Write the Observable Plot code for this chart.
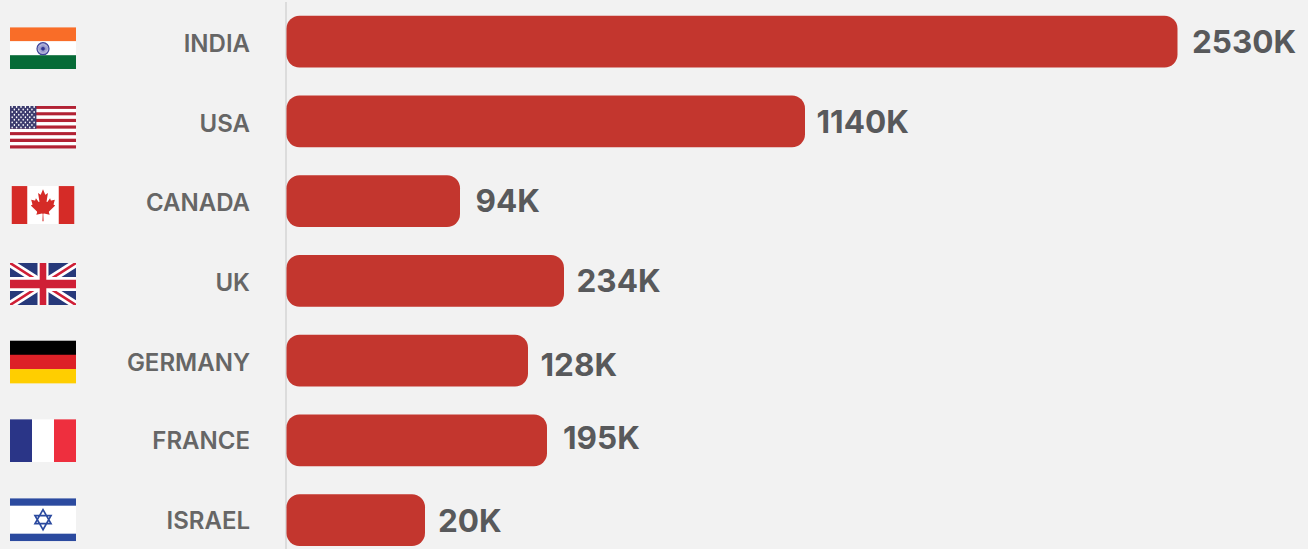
<!DOCTYPE html>
<html>
<head>
<meta charset="utf-8">
<script src="https://cdn.jsdelivr.net/npm/d3@7"></script>
<script src="https://cdn.jsdelivr.net/npm/@observablehq/plot@0.6"></script>
<style>
  html, body { margin: 0; padding: 0; background: #f2f2f2; }
  svg { display: block; }
</style>
</head>
<body>
<div id="chart"></div>
<script>
// Values in thousands, one per country.
const countries = ["INDIA", "USA", "CANADA", "UK", "GERMANY", "FRANCE", "ISRAEL"];
const values = [2530, 1140, 94, 234, 128, 195, 20];
const valueLabels = ["2530K", "1140K", "94K", "234K", "128K", "195K", "20K"];

// The bar axis is not linear: it is a piecewise scale with a knot at each value.
const axisKnots = [0, 20, 94, 128, 195, 234, 1140, 2530];
const axisRange = [286.5, 425, 460, 528, 547, 564, 805, 1177.5];

// Small per-row nudges for flags and labels.
const flagNudge = [6, 5.2, 3.4, 2.6, 0.8, -0.2, -0.9];
const nameNudge = [2.2, 2.2, 1.4, 1.6, 1.8, 0.3, 1];
const valueNudgeY = [0.5, 0.7, -0.1, 0.1, 4.3, -1.7, 1.5];
const valueNudgeX = [14, 11, 15, 12, 12, 15.5, 12.5];

const svgUri = (w, h, body) =>
  "data:image/svg+xml," + encodeURIComponent(
    `<svg xmlns="http://www.w3.org/2000/svg" viewBox="0 0 ${w} ${h}" preserveAspectRatio="none">${body}</svg>`);

const bands = (colors) => colors.map((c, i) =>
  `<rect x="0" y="${i}" width="3" height="1.02" fill="${c}"/>`).join("");

// India: tricolour with the chakra wheel.
const spokes = d3.range(24).map(i => {
  const a = i * Math.PI / 12;
  return `<line x1="33" y1="21.5" x2="${33 + 6 * Math.cos(a)}" y2="${21.5 + 6 * Math.sin(a)}"/>`;
}).join("");
const india = svgUri(66, 42,
  `<rect width="66" height="14.3" fill="#f96d28"/><rect y="14" width="66" height="14" fill="#fff"/>` +
  `<rect y="28" width="66" height="14" fill="#066b37"/>` +
  `<circle cx="33" cy="21.5" r="6" fill="#dcdcf0" stroke="#3b3f96" stroke-width="1.2"/>` +
  `<g stroke="#5a5eaa" stroke-width="0.5">${spokes}</g><circle cx="33" cy="21.5" r="1.8" fill="#2f3390"/>`);

// USA: thirteen stripes, fifty stars on the canton.
const stripes = d3.range(13).map(i =>
  `<rect y="${i}" width="26" height="1" fill="${i % 2 ? "#fff" : "#b22234"}"/>`).join("");
const stars = d3.range(9).flatMap(r => d3.range(r % 2 ? 5 : 6).map(c =>
  `<circle cx="${(r % 2 ? 1.73 : 0.87) + c * 1.73}" cy="${0.38 + r * 0.78}" r="0.3" fill="#fff"/>`)).join("");
const usa = svgUri(26, 13, stripes + `<rect width="10.4" height="7" fill="#3c3b6e"/>` + stars);

// Canada: red pales with the maple leaf cut out of the white square.
const canada = svgUri(9600, 4800,
  `<rect width="9600" height="4800" fill="#d52b27"/>` +
  `<path fill="#fff" d="m2400 0h4800v4800h-4800zm2490 4430-45-863a95 95 0 0 1 111-98l859 151-116-320a65 65 0 0 1 20-73l941-762-212-99a65 65 0 0 1-34-79l186-572-542 115a65 65 0 0 1-73-38l-105-247-423 454a65 65 0 0 1-111-57l204-1052-327 189a65 65 0 0 1-91-27l-332-652-332 652a65 65 0 0 1-91 27l-327-189 204 1052a65 65 0 0 1-111 57l-423-454-105 247a65 65 0 0 1-73 38l-542-115 186 572a65 65 0 0 1-34 79l-212 99 941 762a65 65 0 0 1 20 73l-116 320 859-151a95 95 0 0 1 111 98l-45 863z"/>`);

// UK: the union flag.
const uk = svgUri(60, 30,
  `<rect width="60" height="30" fill="#27397a"/>` +
  `<path d="M0 0L60 30M60 0L0 30" stroke="#fff" stroke-width="6"/>` +
  `<path d="M0 0L60 30M60 0L0 30" stroke="#cf1f36" stroke-width="2"/>` +
  `<path d="M30 0V30M0 15H60" stroke="#fff" stroke-width="10"/>` +
  `<path d="M30 0V30M0 15H60" stroke="#cf1f36" stroke-width="6"/>`);

const germany = svgUri(3, 3, bands(["#000", "#dd2127", "#ffce00"]));

const france = svgUri(66, 43,
  `<rect width="22" height="43" fill="#2a3587"/><rect x="22" width="22" height="43" fill="#fff"/>` +
  `<rect x="44" width="22" height="43" fill="#ee2f3e"/>`);

// Israel: two blue stripes and the star of David.
const israel = svgUri(66, 43,
  `<rect width="66" height="43" fill="#fff"/><rect width="66" height="7.5" fill="#2b4a9f"/>` +
  `<rect y="35.5" width="66" height="7.5" fill="#2b4a9f"/>` +
  `<path d="M33 11.5L41 25.5H25ZM33 31.5L25 17.5H41Z" fill="none" stroke="#2b4a9f" stroke-width="1.7"/>`);

const flags = [india, usa, canada, uk, germany, france, israel];
const flagSizes = [[66, 42], [66, 43], [63, 38], [66, 42], [66, 43], [66, 43], [66, 43]];

const rows = countries.map((name, i) => ({name, value: values[i], label: valueLabels[i], flag: flags[i], i}));
const font = "Inter, 'Noto Sans', sans-serif";

const chart = Plot.plot({
  width: 1308,
  height: 549,
  margin: 0,
  style: {background: "#f2f2f2", fontFamily: font},
  x: {axis: null, type: "linear", domain: axisKnots, range: axisRange},
  y: {axis: null, domain: countries, range: [15.8, 546], paddingInner: 0.35, paddingOuter: 0, round: false},
  marks: [
    Plot.ruleX([0], {stroke: "#dcdcdc", strokeWidth: 2, dx: -1, insetTop: 2}),
    Plot.barX(rows, {x1: 0, x2: "value", y: "name", fill: "#c3362e", rx: 13}),
    ...rows.flatMap(r => [
      Plot.image([r], {
        y: "name", src: "flag", frameAnchor: "left", dx: 42.5,
        width: flagSizes[r.i][0], height: flagSizes[r.i][1],
        preserveAspectRatio: "none", dy: flagNudge[r.i]
      }),
      Plot.text([r], {
        y: "name", text: "name", frameAnchor: "left", dx: 249.5, dy: nameNudge[r.i],
        textAnchor: "end", fill: "#666666", fontSize: 24, fontWeight: 600, fontFamily: font
      }),
      Plot.text([r], {
        x: "value", y: "name", text: "label", dx: valueNudgeX[r.i], dy: valueNudgeY[r.i],
        textAnchor: "start", fill: "#58595b", fontSize: 31.5, fontWeight: 700, fontFamily: font
      })
    ])
  ]
});
document.getElementById("chart").append(chart);
</script>
</body>
</html>
